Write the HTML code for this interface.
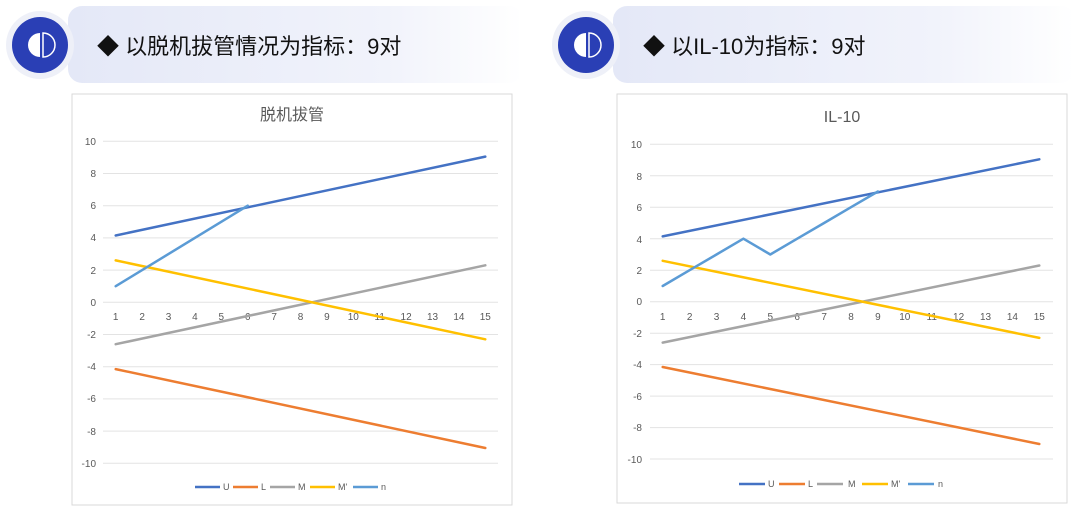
<!DOCTYPE html>
<html><head><meta charset="utf-8"><style>
body{margin:0;width:1080px;height:508px;background:#fff;overflow:hidden;font-family:"Liberation Sans","Noto Sans CJK SC",sans-serif}
</style></head><body>
<svg width="1080" height="508" xmlns="http://www.w3.org/2000/svg" font-family="Liberation Sans, Noto Sans CJK SC, sans-serif">
<defs>
<linearGradient id="bg" x1="0" x2="1" y1="0" y2="0"><stop offset="0" stop-color="#e4e8f7"/><stop offset="0.7" stop-color="#f1f3fb"/><stop offset="1" stop-color="#ffffff"/></linearGradient>
</defs>
<rect x="68" y="6" width="455" height="77" rx="14" fill="url(#bg)"/>
<circle cx="40" cy="45" r="34" fill="#eef0f8"/>
<circle cx="40" cy="45" r="28" fill="#2a3fb5"/>
<path d="M40 33 A12 12 0 0 0 40 57 Z" fill="#fff"/>
<path d="M43 33 L43 57 A12 12 0 0 0 43 33 Z" fill="none" stroke="#fff" stroke-width="1.5"/>
<text x="97" y="54" font-size="22" fill="#111">◆ 以脱机拔管情况为指标：9对</text>
<rect x="613" y="6" width="462" height="77" rx="14" fill="url(#bg)"/>
<circle cx="586" cy="45" r="34" fill="#eef0f8"/>
<circle cx="586" cy="45" r="28" fill="#2a3fb5"/>
<path d="M586 33 A12 12 0 0 0 586 57 Z" fill="#fff"/>
<path d="M589 33 L589 57 A12 12 0 0 0 589 33 Z" fill="none" stroke="#fff" stroke-width="1.5"/>
<text x="643" y="54" font-size="22" fill="#111">◆ 以IL-10为指标：9对</text>

<rect x="72" y="94" width="440" height="411" fill="#fff" stroke="#d9d9d9"/>
<text x="292" y="120" font-size="16" fill="#595959" text-anchor="middle">脱机拔管</text>
<g stroke="#e3e3e3" stroke-width="1">
<line x1="103" x2="498" y1="141.3" y2="141.3"/><line x1="103" x2="498" y1="173.5" y2="173.5"/><line x1="103" x2="498" y1="205.7" y2="205.7"/><line x1="103" x2="498" y1="237.9" y2="237.9"/><line x1="103" x2="498" y1="270.1" y2="270.1"/><line x1="103" x2="498" y1="302.3" y2="302.3"/><line x1="103" x2="498" y1="334.5" y2="334.5"/><line x1="103" x2="498" y1="366.7" y2="366.7"/><line x1="103" x2="498" y1="398.9" y2="398.9"/><line x1="103" x2="498" y1="431.1" y2="431.1"/><line x1="103" x2="498" y1="463.3" y2="463.3"/>
</g>
<g font-size="10" fill="#595959" text-anchor="end">
<text x="96" y="145">10</text><text x="96" y="177">8</text><text x="96" y="209">6</text><text x="96" y="241">4</text><text x="96" y="274">2</text><text x="96" y="306">0</text><text x="96" y="338">-2</text><text x="96" y="370">-4</text><text x="96" y="402">-6</text><text x="96" y="435">-8</text><text x="96" y="467">-10</text>
</g>
<g font-size="10" fill="#595959" text-anchor="middle">
<text x="115.7" y="320">1</text><text x="142.1" y="320">2</text><text x="168.5" y="320">3</text><text x="194.9" y="320">4</text><text x="221.3" y="320">5</text><text x="247.7" y="320">6</text><text x="274.1" y="320">7</text><text x="300.5" y="320">8</text><text x="326.9" y="320">9</text><text x="353.3" y="320">10</text><text x="379.7" y="320">11</text><text x="406.1" y="320">12</text><text x="432.5" y="320">13</text><text x="458.9" y="320">14</text><text x="485.3" y="320">15</text>
</g>
<g fill="none" stroke-width="2.5" stroke-linecap="round">
<line x1="115.7" y1="235.5" x2="485.3" y2="156.6" stroke="#4472c4"/>
<line x1="115.7" y1="369.1" x2="485.3" y2="448" stroke="#ed7d31"/>
<line x1="115.7" y1="344.2" x2="485.3" y2="265.3" stroke="#a5a5a5"/>
<line x1="115.7" y1="260.4" x2="485.3" y2="339.3" stroke="#ffc000"/>
<line x1="115.7" y1="286.2" x2="247.7" y2="205.7" stroke="#5b9bd5"/>
</g>
<g font-size="9" fill="#595959">
<line x1="195" x2="220" y1="487" y2="487" stroke="#4472c4" stroke-width="2.5"/><text x="223" y="490">U</text>
<line x1="233" x2="258" y1="487" y2="487" stroke="#ed7d31" stroke-width="2.5"/><text x="261" y="490">L</text>
<line x1="270" x2="295" y1="487" y2="487" stroke="#a5a5a5" stroke-width="2.5"/><text x="298" y="490">M</text>
<line x1="310" x2="335" y1="487" y2="487" stroke="#ffc000" stroke-width="2.5"/><text x="338" y="490">M'</text>
<line x1="353" x2="378" y1="487" y2="487" stroke="#5b9bd5" stroke-width="2.5"/><text x="381" y="490">n</text>
</g>

<rect x="617" y="94" width="450" height="409" fill="#fff" stroke="#d9d9d9"/>
<text x="842" y="122" font-size="16" fill="#595959" text-anchor="middle">IL-10</text>
<g stroke="#e3e3e3" stroke-width="1">
<line x1="650" x2="1053" y1="144.3" y2="144.3"/><line x1="650" x2="1053" y1="175.8" y2="175.8"/><line x1="650" x2="1053" y1="207.2" y2="207.2"/><line x1="650" x2="1053" y1="238.7" y2="238.7"/><line x1="650" x2="1053" y1="270.2" y2="270.2"/><line x1="650" x2="1053" y1="301.7" y2="301.7"/><line x1="650" x2="1053" y1="333.2" y2="333.2"/><line x1="650" x2="1053" y1="364.6" y2="364.6"/><line x1="650" x2="1053" y1="396.1" y2="396.1"/><line x1="650" x2="1053" y1="427.6" y2="427.6"/><line x1="650" x2="1053" y1="459" y2="459"/>
</g>
<g font-size="10" fill="#595959" text-anchor="end">
<text x="642" y="148">10</text><text x="642" y="180">8</text><text x="642" y="211">6</text><text x="642" y="243">4</text><text x="642" y="274">2</text><text x="642" y="305">0</text><text x="642" y="337">-2</text><text x="642" y="368">-4</text><text x="642" y="400">-6</text><text x="642" y="431">-8</text><text x="642" y="463">-10</text>
</g>
<g font-size="10" fill="#595959" text-anchor="middle">
<text x="662.7" y="320">1</text><text x="689.6" y="320">2</text><text x="716.5" y="320">3</text><text x="743.4" y="320">4</text><text x="770.3" y="320">5</text><text x="797.2" y="320">6</text><text x="824.1" y="320">7</text><text x="851" y="320">8</text><text x="877.9" y="320">9</text><text x="904.8" y="320">10</text><text x="931.7" y="320">11</text><text x="958.6" y="320">12</text><text x="985.5" y="320">13</text><text x="1012.4" y="320">14</text><text x="1039.3" y="320">15</text>
</g>
<g fill="none" stroke-width="2.5" stroke-linecap="round" stroke-linejoin="round">
<line x1="662.7" y1="236.4" x2="1039.3" y2="159.3" stroke="#4472c4"/>
<line x1="662.7" y1="367" x2="1039.3" y2="444" stroke="#ed7d31"/>
<line x1="662.7" y1="342.6" x2="1039.3" y2="265.5" stroke="#a5a5a5"/>
<line x1="662.7" y1="260.8" x2="1039.3" y2="337.9" stroke="#ffc000"/>
<polyline points="662.7,286 689.6,270.2 716.5,254.5 743.4,238.7 770.3,254.5 797.2,238.7 824.1,223 851,207.2 877.9,191.5" stroke="#5b9bd5"/>
</g>
<g font-size="9" fill="#595959">
<line x1="739" x2="765" y1="484" y2="484" stroke="#4472c4" stroke-width="2.5"/><text x="768" y="487">U</text>
<line x1="779" x2="805" y1="484" y2="484" stroke="#ed7d31" stroke-width="2.5"/><text x="808" y="487">L</text>
<line x1="817" x2="843" y1="484" y2="484" stroke="#a5a5a5" stroke-width="2.5"/><text x="848" y="487">M</text>
<line x1="862" x2="888" y1="484" y2="484" stroke="#ffc000" stroke-width="2.5"/><text x="891" y="487">M'</text>
<line x1="908" x2="934" y1="484" y2="484" stroke="#5b9bd5" stroke-width="2.5"/><text x="938" y="487">n</text>
</g>
</svg>
</body></html>
